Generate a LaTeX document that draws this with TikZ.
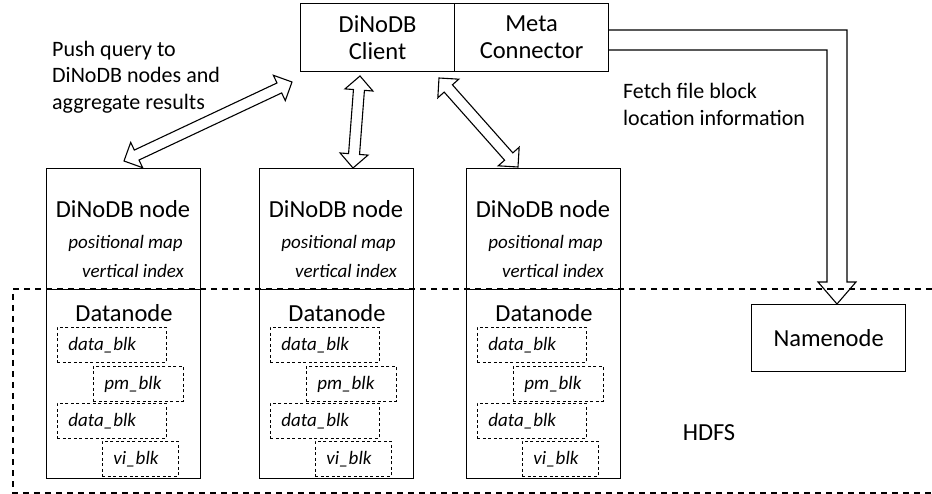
\documentclass[tikz,border=0pt]{standalone}
\usepackage{fontspec}
\setmainfont{Carlito}
\usetikzlibrary{calc}
\newcommand\bigf{\fontsize{24.5}{27}\selectfont}
\newcommand\labf{\fontsize{22}{26.5}\selectfont}
\newcommand\smf{\fontsize{19}{22}\selectfont\itshape}
\newcommand\hollowdbl[2]{%
  \path (#1) coordinate (hA) (#2) coordinate (hB)
        ($(hA)!14pt!(hB)$) coordinate (hA1) ($(hB)!14pt!(hA)$) coordinate (hB1);
  \draw[harrow] (hA) -- ($(hA1)!14pt!90:(hB)$) -- ($(hA1)!5.5pt!90:(hB)$)
    -- ($(hB1)!5.5pt!-90:(hA)$) -- ($(hB1)!14pt!-90:(hA)$) -- (hB)
    -- ($(hB1)!14pt!90:(hA)$) -- ($(hB1)!5.5pt!90:(hA)$)
    -- ($(hA1)!5.5pt!-90:(hB)$) -- ($(hA1)!14pt!-90:(hB)$) -- cycle;}
\begin{document}
\begin{tikzpicture}[x=1pt,y=-1pt,
  box/.style={draw,line width=1.2pt,anchor=north west,inner sep=0pt},
  blk/.style={draw,dashed,line width=0.9pt,dash pattern=on 3pt off 2.5pt,anchor=north west,
    minimum height=35pt,inner xsep=11pt,inner ysep=0pt,align=left,font=\smf},
  harrow/.style={draw,line width=1.1pt,line join=miter},
  hdfs/.style={draw,line width=1.1pt,dash pattern=on 6pt off 5pt}]
\useasboundingbox (0,0) rectangle (932,494);
% HDFS region
\draw[hdfs] (932,289) -- (13,289) -- (13,493) -- (932,493);
\node[font=\bigf] (hdfs) at (709,433) {HDFS};
% top boxes
\node[box,minimum width=154pt,minimum height=68pt,align=center,font=\bigf] (client) at (300,3) {DiNoDB\\Client};
\node[box,minimum width=154pt,minimum height=68pt,align=center,font=\bigf] (meta) at (454,3) {Meta\\Connector};
% namenode
\node[box,minimum width=154pt,minimum height=67pt,font=\bigf] (namenode) at (751,304) {Namenode};
% DiNoDB nodes and datanodes
\foreach \i/\L in {1/46,2/259,3/466}{
  \node[box,minimum width=154pt,minimum height=121pt] (dn\i) at (\L,168) {};
  \node[box,minimum width=154pt,minimum height=189pt] (dd\i) at (\L,289) {};
  \node[font=\bigf] (dnt\i) at (\L+77,209) {DiNoDB node};
  \node[font=\smf,anchor=east,inner sep=0pt] (pm\i) at (\L+137,243) {positional map};
  \node[font=\smf,anchor=east,inner sep=0pt] (vi\i) at (\L+138,271) {vertical index};
  \node[font=\bigf] (ddt\i) at (\L+78,313) {Datanode};
  \node[blk,text width=87pt] (b1\i) at (\L+11,327) {data\_blk};
  \node[blk,text width=68pt] (b2\i) at (\L+47,366) {pm\_blk};
  \node[blk,text width=87pt] (b3\i) at (\L+11,403) {data\_blk};
  \node[blk,text width=54pt] (b4\i) at (\L+56,441) {vi\_blk};
}
% labels
\node[font=\labf,align=left,anchor=west,inner sep=0pt] (lab1) at (52,77) {Push query to\\DiNoDB nodes and\\aggregate results};
\node[font=\labf,align=left,anchor=west,inner sep=0pt] (lab2) at (623,104.5) {Fetch file block\\location information};
% double hollow arrows
\coordinate (a1t) at (292,82);
\coordinate (a1b) at (124,161);
\coordinate (a2t) at (360,76);
\coordinate (a2b) at (353,168);
\coordinate (a3t) at (439,78);
\coordinate (a3b) at (518,167);
\hollowdbl{a1t}{a1b}
\hollowdbl{a2t}{a2b}
\hollowdbl{a3t}{a3b}
% meta connector -> namenode
\draw[harrow] (meta.east |- 0,30) -- (847,30) -- (847,282) -- (856,282)
  -- (namenode.north -| 837,0) -- (818,282) -- (827,282) -- (827,50) -- (meta.east |- 0,50);
\end{tikzpicture}
\end{document}
